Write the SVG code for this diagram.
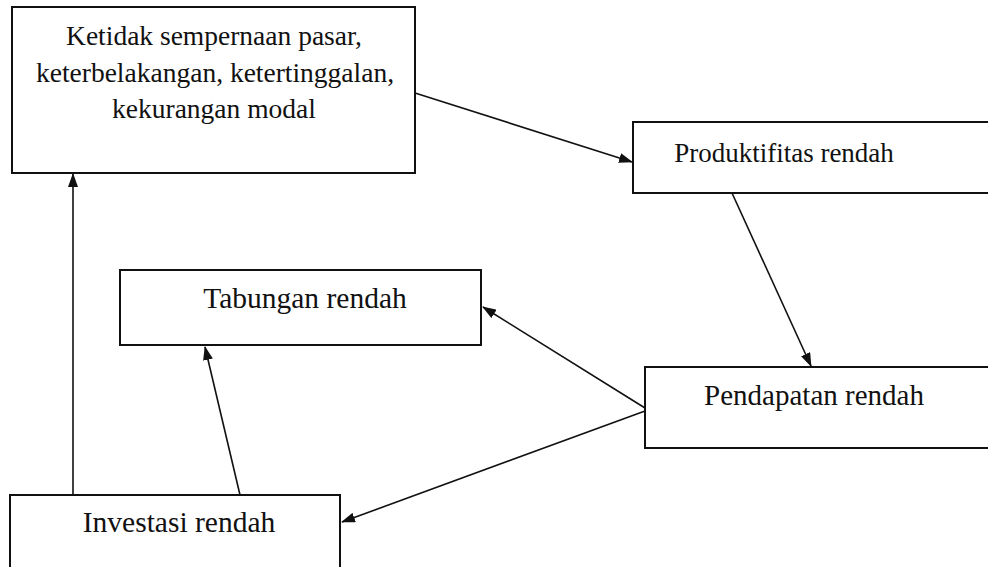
<svg xmlns="http://www.w3.org/2000/svg" width="988" height="567" viewBox="0 0 988 567">
<style>
.box{fill:#fff;stroke:#111;stroke-width:2}
.lbl{font-family:"Liberation Serif","Times New Roman",serif;font-size:27.5px;fill:#111;text-anchor:middle}
.con{stroke:#111;stroke-width:1.6;fill:none;marker-end:url(#ah)}
</style>
<defs>
<marker id="ah" viewBox="0 0 14 10" refX="13" refY="5" markerWidth="14" markerHeight="10" markerUnits="userSpaceOnUse" orient="auto">
<path d="M0,0 L14,5 L0,10 z" fill="#111"/>
</marker>
</defs>
<rect width="988" height="567" fill="#fff"/>
<g id="n1">
<rect class="box" x="12" y="7" width="403" height="166"/>
<text class="lbl" x="214" y="45">Ketidak sempernaan pasar,</text>
<text class="lbl" x="215" y="82">keterbelakangan, ketertinggalan,</text>
<text class="lbl" x="214" y="118">kekurangan modal</text>
</g>
<g id="n2">
<rect class="box" x="633" y="122" width="360" height="71"/>
<text class="lbl" x="784" y="162" style="font-size:27px">Produktifitas rendah</text>
</g>
<g id="n3">
<rect class="box" x="120" y="270" width="361" height="75"/>
<text class="lbl" x="305" y="308" style="font-size:29.5px">Tabungan rendah</text>
</g>
<g id="n4">
<rect class="box" x="645" y="367" width="350" height="81"/>
<text class="lbl" x="814" y="405" style="font-size:29px">Pendapatan rendah</text>
</g>
<g id="n5">
<rect class="box" x="10" y="495" width="330" height="80"/>
<text class="lbl" x="179" y="532" style="font-size:29.5px">Investasi rendah</text>
</g>
<g id="connectors">
<line class="con" x1="415" y1="93" x2="632" y2="162"/>
<line class="con" x1="732" y1="193" x2="811" y2="366"/>
<line class="con" x1="645" y1="408" x2="483" y2="307"/>
<line class="con" x1="645" y1="411" x2="342" y2="522"/>
<line class="con" x1="240" y1="495" x2="205" y2="347"/>
<line class="con" x1="73" y1="495" x2="73" y2="174"/>
</g>
</svg>
